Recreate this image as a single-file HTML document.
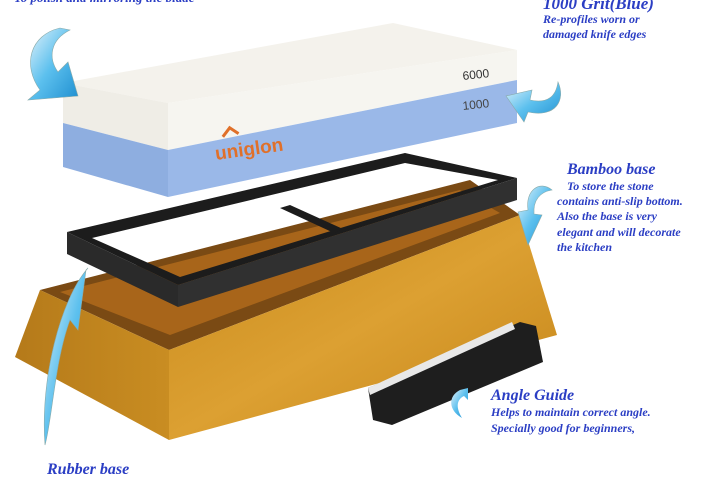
<!DOCTYPE html>
<html><head><meta charset="utf-8"><style>
html,body{margin:0;padding:0;background:#fff;}
svg{display:block}
text{font-family:"Liberation Serif",serif;font-weight:bold;font-style:italic;fill:#2b3ec4}
</style></head><body>
<svg width="720" height="480" viewBox="0 0 720 480" xmlns="http://www.w3.org/2000/svg">
<defs>
<linearGradient id="wood" x1="0" y1="0" x2="1" y2="1">
<stop offset="0" stop-color="#c88a1c"/><stop offset="0.5" stop-color="#dca032"/><stop offset="1" stop-color="#c48418"/></linearGradient>
<linearGradient id="woodL" x1="0" y1="0" x2="1" y2="0">
<stop offset="0" stop-color="#b57a1a"/><stop offset="1" stop-color="#c98d22"/></linearGradient>
<linearGradient id="arr" x1="0" y1="0" x2="1" y2="1">
<stop offset="0" stop-color="#e8f4fb"/><stop offset="0.5" stop-color="#5cc0ee"/><stop offset="1" stop-color="#1f8fd0"/></linearGradient>
</defs>
<text x="14" y="2" font-size="13">To polish and mirroring the blade</text>
<!-- stone -->
<polygon points="63,83 393,23 517,50 168,103" fill="#f4f2ec"/>
<polygon points="63,83 168,103 168,150 63,123" fill="#efede6"/>
<polygon points="168,103 517,50 517,80 168,150" fill="#f6f5f0"/>
<polygon points="63,123 168,150 168,197 63,167" fill="#8eaee0"/>
<polygon points="168,150 517,80 517,123 168,197" fill="#9ab8e8"/>
<text x="463" y="80" font-size="12" style="font-style:normal;font-weight:normal;fill:#333;font-family:'Liberation Sans',sans-serif" transform="rotate(-6 463 80)">6000</text>
<text x="463" y="110" font-size="12" style="font-style:normal;font-weight:normal;fill:#444;font-family:'Liberation Sans',sans-serif" transform="rotate(-6 463 110)">1000</text>
<text x="216" y="160" font-size="19" style="font-style:normal;fill:#e0702a;font-family:'Liberation Sans',sans-serif" transform="rotate(-8 216 160)">uniglon</text>
<polyline points="226,138 234,130 242,137" fill="none" stroke="#e0702a" stroke-width="3" transform="rotate(-8 216 160)"/>
<!-- bamboo base -->
<polygon points="40,290 470,180 520,215 169,350" fill="#7a4a14"/>
<polygon points="60,292 460,190 500,213 170,335" fill="#a8651a"/>
<polygon points="40,290 169,350 169,440 15,357" fill="url(#woodL)"/>
<polygon points="169,350 520,215 557,335 169,440" fill="url(#wood)"/>
<!-- frame -->
<path d="M67,232 L405,153 L517,178 L178,285 Z M92,238 L405,163 L498,180 L180,277 Z" fill="#1c1c1c" fill-rule="evenodd"/>
<polygon points="67,232 178,285 178,307 67,254" fill="#2a2a2a"/>
<polygon points="178,285 517,178 517,200 178,307" fill="#303030"/>
<polygon points="280,208 290,205 343,229 334,233" fill="#1c1c1c"/>
<!-- angle guide -->
<polygon points="368,388 520,322 536,326 543,362 392,425 373,420" fill="#1e1e1e"/>
<polygon points="368,388 512,322 515,329 370,395" fill="#e8e8e8"/>
<!-- arrows -->
<path d="M60,28 C30,35 22,65 40,90 L28,100 L78,96 L68,62 L58,72 C48,58 50,40 70,30 Z" fill="url(#arr)" stroke="#8aa" stroke-width="0.6"/>
<path d="M558,82 C566,100 556,118 528,112 L524,122 L506,96 L532,90 L530,100 C548,104 556,96 558,82 Z" fill="url(#arr)" stroke="#8aa" stroke-width="0.6"/>
<path d="M552,190 C540,180 525,190 528,210 L518,212 L528,245 L542,215 L534,214 C533,200 540,192 552,190 Z" fill="url(#arr)" stroke="#8aa" stroke-width="0.6"/>
<path d="M88,268 C60,300 40,380 45,445 C52,420 55,360 70,320 L78,330 L86,270 Z" fill="url(#arr)" stroke="#8aa" stroke-width="0.6"/>
<path d="M460,390 C448,396 448,410 462,418 C456,408 456,400 464,396 L468,400 L468,388 Z" fill="url(#arr)"/>
<!-- labels -->
<text x="543" y="9" font-size="17">1000 Grit(Blue)</text>
<text x="543" y="23" font-size="12">Re-profiles worn or</text>
<text x="543" y="38" font-size="12">damaged knife edges</text>
<text x="567" y="174" font-size="16">Bamboo base</text>
<text x="567" y="190" font-size="12">To store the stone</text>
<text x="557" y="205" font-size="12">contains anti-slip bottom.</text>
<text x="557" y="220" font-size="12">Also the base is very</text>
<text x="557" y="236" font-size="12">elegant and will decorate</text>
<text x="557" y="251" font-size="12">the kitchen</text>
<text x="491" y="400" font-size="16">Angle Guide</text>
<text x="491" y="416" font-size="12">Helps to maintain correct angle.</text>
<text x="491" y="432" font-size="12">Specially good for beginners,</text>
<text x="47" y="474" font-size="16">Rubber base</text>
</svg>
</body></html>
